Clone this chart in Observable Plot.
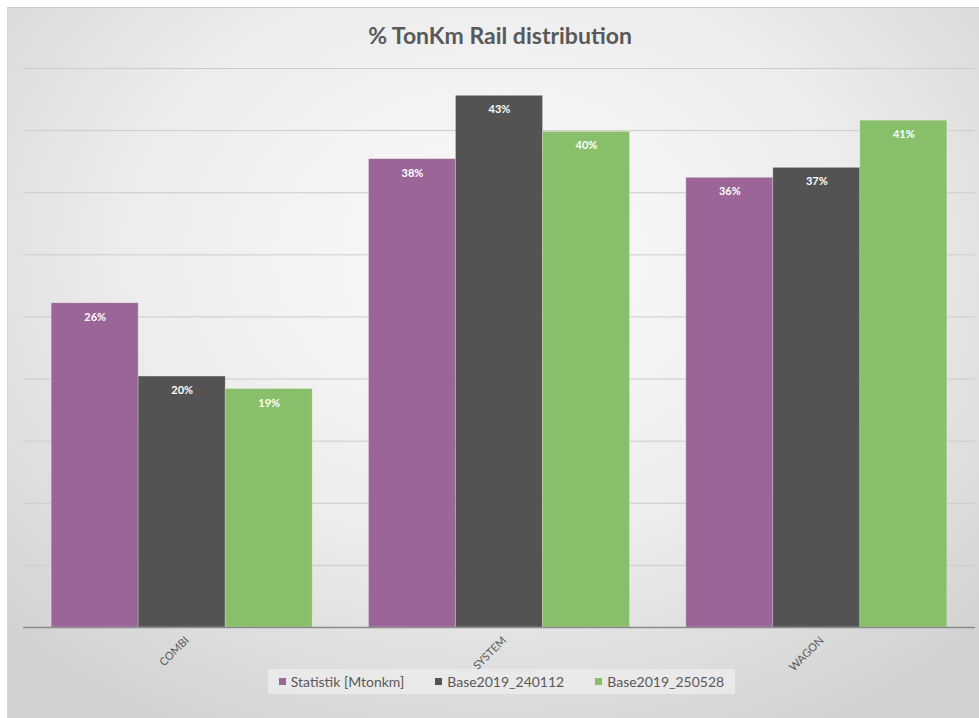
<!DOCTYPE html>
<html>
<head>
<meta charset="utf-8">
<script src="https://cdn.jsdelivr.net/npm/d3@7"></script>
<script src="https://cdn.jsdelivr.net/npm/@observablehq/plot@0.6"></script>
<style>
  html, body { margin: 0; padding: 0; background: #ffffff; }
  #wrap { position: relative; width: 979px; height: 718px; overflow: hidden; font-family: Lato, "Open Sans", sans-serif; }
  #bg { position: absolute; left: 7px; top: 7px; width: 972px; height: 711px;
        background: radial-gradient(ellipse 70% 75% at 50% 35%, #fbfbfb 0%, #ececec 55%, #d2d2d2 100%);
        border-top: 1px solid #c9c9c9; border-left: 1px solid #d6d6d6; box-sizing: border-box; }
  #title { position: absolute; left: 0; width: 1000px; top: 21px; text-align: center; font-size: 23px; font-weight: bold; color: #595959; }
  #legend { position: absolute; left: 268px; top: 669px; width: 467px; height: 25px; background: rgba(235,235,235,0.85);
            display: flex; align-items: center; justify-content: center; gap: 31px; font-size: 14px; color: #595959; }
  #chart { position: absolute; left: 0; top: 50px; }
  .item { display: flex; align-items: center; gap: 5px; }
  .sw { width: 7px; height: 7px; display: inline-block; }
</style>
</head>
<body>
<div id="wrap">
  <div id="bg"></div>
  <div id="title">% TonKm Rail distribution</div>
  <div id="legend"></div>
  <div id="chart"></div>
</div>
<script>
const categories = ["COMBI", "SYSTEM", "WAGON"];
const seriesNames = ["Statistik [Mtonkm]", "Base2019_240112", "Base2019_250528"];
const statistik = [26.1, 37.7, 36.2];
const base240112 = [20.2, 42.8, 37.0];
const base250528 = [19.2, 39.9, 40.8];
const gridValues = [5, 10, 15, 20, 25, 30, 35, 40, 45];
const colors = ["#9b6598", "#535353", "#87bf6b"];

const seriesValues = [statistik, base240112, base250528];
const data = [];
categories.forEach((c, i) => {
  seriesNames.forEach((s, j) => {
    data.push({category: c, series: s, value: seriesValues[j][i], label: Math.round(seriesValues[j][i]) + "%"});
  });
});

const plot = Plot.plot({
  width: 979,
  height: 620,
  marginLeft: 23,
  marginRight: 4,
  marginTop: 18,
  marginBottom: 43,
  style: {background: "transparent", fontFamily: "Lato, 'Open Sans', sans-serif", overflow: "visible"},
  fx: {domain: categories, paddingInner: 0, paddingOuter: 0, round: false, label: null},
  x: {domain: seriesNames, paddingInner: 0, paddingOuter: 0.3237, round: false, axis: null},
  y: {domain: [0, 45], axis: null},
  color: {domain: seriesNames, range: colors},
  marks: [
    Plot.ruleY(gridValues, {stroke: "#cccccc", strokeWidth: 1}),
    Plot.barY(data, {fx: "category", x: "series", y: "value", fill: "series", stroke: "rgba(255,255,255,0.35)", strokeWidth: 0.7}),
    Plot.text(data, {fx: "category", x: "series", y: "value", text: "label", dy: 14, fill: "white", fontWeight: "bold", fontSize: 11}),
    Plot.ruleY([0], {stroke: "#8a8a8a", strokeWidth: 1.5}),
    Plot.axisFx({anchor: "bottom", tickRotate: -45, tickSize: 0, tickPadding: 11, fontSize: 11, fill: "#595959", label: null, dx: 5})
  ]
});
document.getElementById("chart").appendChild(plot);

const legend = document.getElementById("legend");
seriesNames.forEach((s, j) => {
  const it = document.createElement("div");
  it.className = "item";
  const sw = document.createElement("span");
  sw.className = "sw";
  sw.style.background = colors[j];
  const tx = document.createElement("span");
  tx.textContent = s;
  it.appendChild(sw); it.appendChild(tx);
  legend.appendChild(it);
});
</script>
</body>
</html>
